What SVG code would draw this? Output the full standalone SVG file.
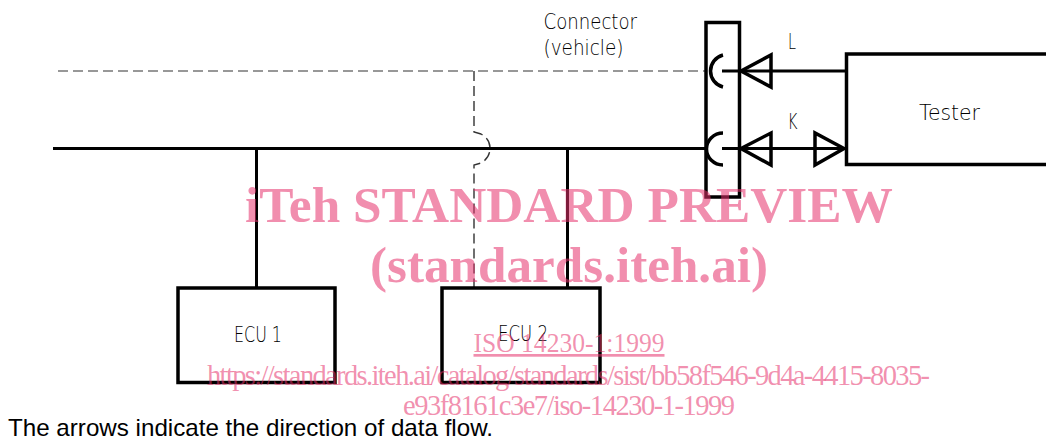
<svg xmlns="http://www.w3.org/2000/svg" width="1046" height="441" viewBox="0 0 1046 441">
<style>
.s{fill:none;stroke:#000;stroke-width:3}
.h{fill:none;stroke:#000;stroke-width:3.5}
.d{fill:none;stroke:#777;stroke-width:1.6;stroke-dasharray:10 5}
.t{font-family:"DejaVu Sans",sans-serif;font-weight:200;font-size:20.500px;fill:#000}
.w{font-family:"Liberation Serif",serif;fill:#e6316b;fill-opacity:.55}
</style>
<rect width="1046" height="441" fill="#fff"/>
<g id="connectors">
<path class="d" d="M58 71H705"/>
<path d="M474 71V132L481 134Q490 139 490 148Q490 158 481 163L474 165V287" fill="none" stroke="#333" stroke-width="1.4" stroke-dasharray="10 5"/>
<path class="s" d="M53 148.500H705M256.500 148.500V287M567.500 148.500V287"/>
<path class="s" d="M722 71H846M722 148.500H846"/>
<path class="h" d="M741 71L771 55V87ZM741 148.500L771 133V165ZM844 148.500L815 133V165Z"/>
</g>
<g id="vehicle-connector">
<rect class="h" x="706" y="22.500" width="33.500" height="174.500"/>
<path class="h" d="M723 55A16.500 16.500 0 0 0 723 87M723 133A16.500 16 0 0 0 723 165"/>
<text class="t" x="543.500" y="29" textLength="93.500" lengthAdjust="spacingAndGlyphs">Connector</text>
<text class="t" x="543.500" y="55" textLength="80" lengthAdjust="spacingAndGlyphs">(vehicle)</text>
</g>
<text class="t" x="788" y="48.500" textLength="8" lengthAdjust="spacingAndGlyphs">L</text>
<text class="t" x="787.500" y="129" textLength="10" lengthAdjust="spacingAndGlyphs">K</text>
<g id="tester">
<path class="h" d="M1046 54H846.500V164.500H1046"/>
<text class="t" x="919" y="120" textLength="61" lengthAdjust="spacingAndGlyphs">Tester</text>
</g>
<g id="ecu1">
<rect class="h" x="178" y="288" width="157" height="94.500"/>
<text class="t" x="234" y="342" textLength="48" lengthAdjust="spacingAndGlyphs">ECU 1</text>
</g>
<g id="ecu2">
<rect class="h" x="442" y="288" width="158" height="94.500"/>
<text class="t" x="498" y="341" textLength="50" lengthAdjust="spacingAndGlyphs">ECU 2</text>
</g>
<text x="8" y="435.500" font-family="Liberation Sans,sans-serif" font-size="24px" fill="#000" textLength="485" lengthAdjust="spacingAndGlyphs">The arrows indicate the direction of data flow.</text>
<g id="watermark">
<text class="w" x="245" y="222" font-size="51.500" font-weight="700" textLength="648" lengthAdjust="spacingAndGlyphs">iTeh STANDARD PREVIEW</text>
<text class="w" x="370" y="282" font-size="51.500" font-weight="700" textLength="398" lengthAdjust="spacingAndGlyphs">(standards.iteh.ai)</text>
<text class="w" x="473.500" y="352" font-size="27" text-decoration="underline" textLength="191" lengthAdjust="spacingAndGlyphs">ISO 14230-1:1999</text>
<text class="w" x="207" y="385" font-size="28.500" textLength="723" lengthAdjust="spacing">https://standards.iteh.ai/catalog/standards/sist/bb58f546-9d4a-4415-8035-</text>
<text class="w" x="403" y="415" font-size="28.500" textLength="332" lengthAdjust="spacing">e93f8161c3e7/iso-14230-1-1999</text>
</g>
</svg>
